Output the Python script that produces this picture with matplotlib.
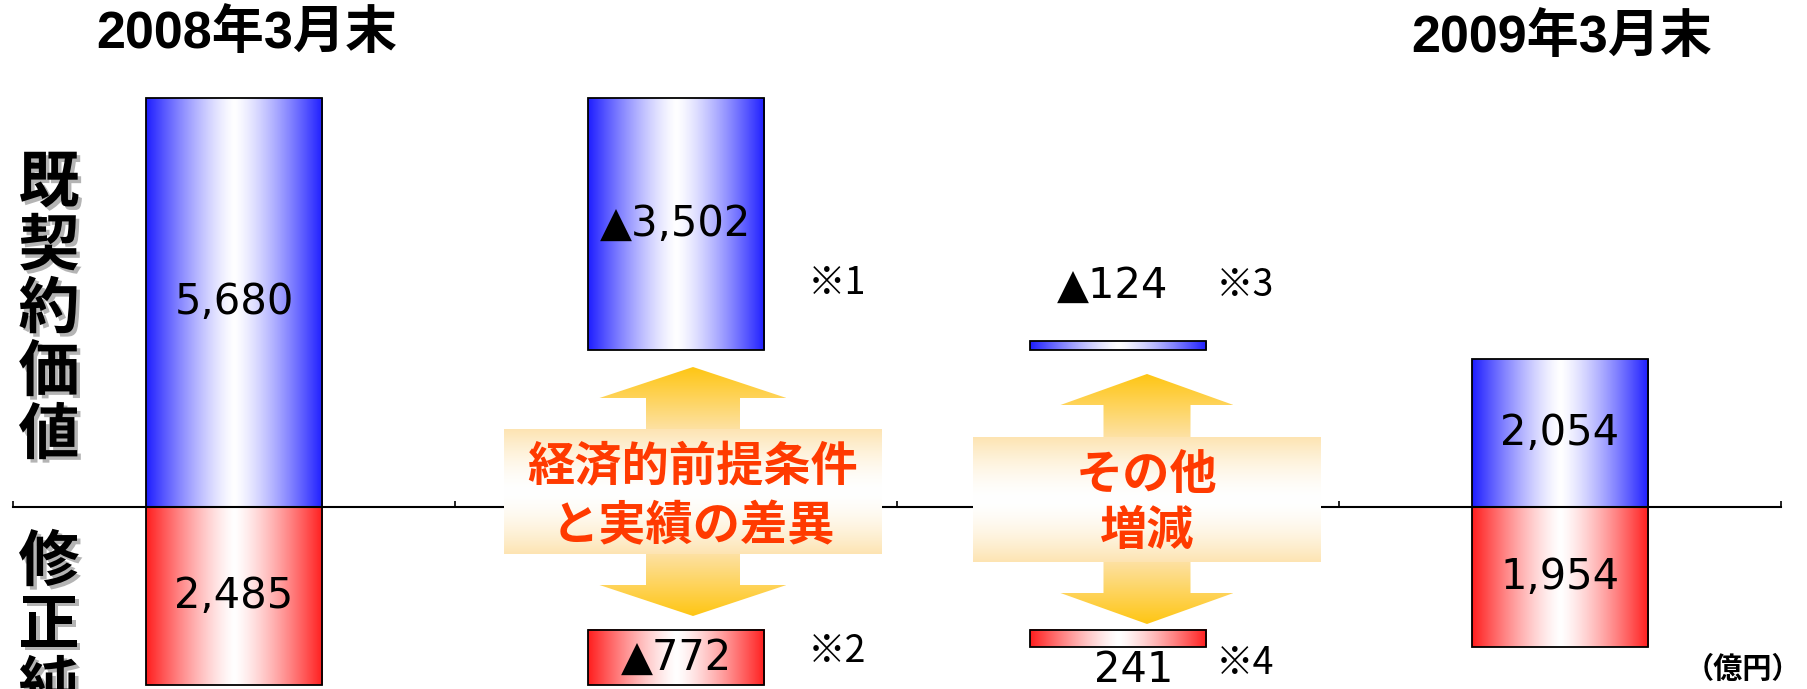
import numpy as np
import matplotlib
matplotlib.use("Agg")
import matplotlib.pyplot as plt
from matplotlib.patches import Polygon
import matplotlib.patheffects as pe

plt.rcParams["font.family"] = ["Noto Sans CJK JP", "DejaVu Sans"]

W, H = 1807, 689

# 億円. upper side = 既契約価値, lower side = 修正純資産
evc = [5680, -3502, -124, 2054]
anw = [2485, -772, 241, 1954]
periods = ["2008年3月末", "2009年3月末"]
steps = [["経済的前提条件", "と実績の差異"], ["その他", "増減"]]
notes = ["※1", "※2", "※3", "※4"]
side_top = "既契約価値"
side_bottom = "修正純"
unit = "（億円）"

BLUE = np.array([30, 30, 255]) / 255
RED = np.array([255, 30, 30]) / 255
GOLD = np.array([255, 198, 20]) / 255
PALE = np.array([253, 228, 178]) / 255
TXT_RED = "#ff3a00"
NUM_FONT = ["DejaVu Sans", "Noto Sans CJK JP"]
HEAD_FONT = ["Liberation Sans", "Noto Sans CJK JP", "DejaVu Sans"]

# y-scale: 0 sits 506.7 px from the top, 0.07195 px per 億円
PX = 0.07195
Y_MAX = 506.7 / PX
Y_MIN = -(H - 506.7) / PX

fig = plt.figure(figsize=(W / 100, H / 100), dpi=100)
ax = fig.add_axes([13 / W, 0, 1768 / W, 1])

x = np.arange(4) + 0.5
mid = evc[0] + evc[1]
top_bottom = [0, mid, mid, 0]
top_height = [evc[0], -evc[1], -evc[2], evc[3]]
low_bottom = [0, -anw[0], -(anw[0] + anw[1]), 0]
low_height = [-anw[0], -anw[1], -anw[2], -anw[3]]

bars_top = ax.bar(x, top_height, bottom=top_bottom, width=0.4,
                  facecolor="none", edgecolor="black", lw=1.3, zorder=3)
bars_low = ax.bar(x, low_height, bottom=low_bottom, width=0.4,
                  facecolor="none", edgecolor="black", lw=1.3, zorder=3)


def hgrad(edge, n=256):
    u = np.linspace(0, 1, n)
    t = np.abs(u - 0.5) / 0.5
    w = 1 - t ** 1.3
    return (edge[None, :] * (1 - w[:, None]) + w[:, None])[None, :, :]


for bars, col in [(bars_top, BLUE), (bars_low, RED)]:
    for b in bars:
        x0, y0, w, h = b.get_x(), b.get_y(), b.get_width(), b.get_height()
        ax.imshow(hgrad(col), extent=[x0, x0 + w, min(y0, y0 + h), max(y0, y0 + h)],
                  aspect="auto", interpolation="bilinear", zorder=2)

ax.set_xlim(0, 4)
ax.set_ylim(Y_MIN, Y_MAX)
for s in ["top", "left", "right"]:
    ax.spines[s].set_visible(False)
ax.spines["bottom"].set_position(("data", 0))
ax.spines["bottom"].set_linewidth(1.5)
ax.set_xticks(range(5))
ax.set_xticklabels([])
ax.set_yticks([])
ax.tick_params(axis="x", direction="in", length=4.5, width=1.2)
ax.patch.set_alpha(0)


def fmt(v):
    return f"▲{-v:,}" if v < 0 else f"{v:,}"


num = dict(ha="center", va="center", fontsize=30, color="black", zorder=4, family=NUM_FONT)
# big bars: value in the middle
ax.text(x[0], evc[0] / 2, fmt(evc[0]), **num)
ax.text(x[0], -anw[0] / 2, fmt(anw[0]), **num)
ax.text(x[1], mid - evc[1] / 2, fmt(evc[1]), **num)
ax.text(x[1], -anw[0] - anw[1] / 2, fmt(anw[1]), **num)
ax.text(x[3], evc[3] / 2, fmt(evc[3]), **num)
ax.text(x[3], -anw[3] / 2, fmt(anw[3]), **num)
# thin bars: value outside
ax.annotate(fmt(evc[2]), xy=(x[2], mid - evc[2]), xytext=(-4, 40),
            textcoords="offset points", **num)
ax.annotate(fmt(anw[2]), xy=(x[2], -(anw[0] + anw[1] + anw[2])), xytext=(11, -16.5),
            textcoords="offset points", **num)

# overlay in pixel units for headings and arrows
ov = fig.add_axes([0, 0, 1, 1], zorder=5)
ov.set_axis_off()


def double_arrow(cx, y_top, y_bot, head_h, head_hw, shaft_hw):
    pts = [(cx, y_top), (cx + head_hw, y_top + head_h), (cx + shaft_hw, y_top + head_h),
           (cx + shaft_hw, y_bot - head_h), (cx + head_hw, y_bot - head_h), (cx, y_bot),
           (cx - head_hw, y_bot - head_h), (cx - shaft_hw, y_bot - head_h),
           (cx - shaft_hw, y_top + head_h), (cx - head_hw, y_top + head_h)]
    poly = Polygon(pts, closed=True, facecolor="none", edgecolor="none")
    ov.add_patch(poly)
    ys = np.linspace(y_top, y_bot, 300)
    cy, half = (y_top + y_bot) / 2, (y_bot - y_top) / 2
    t = np.clip((np.abs(ys - cy) / half - 0.45) / 0.55, 0, 1)
    img = (PALE[None, :] * (1 - t[:, None]) + GOLD[None, :] * t[:, None])[:, None, :]
    im = ov.imshow(img, extent=[cx - head_hw, cx + head_hw, y_bot, y_top],
                   aspect="auto", origin="upper", interpolation="bilinear", zorder=1)
    im.set_clip_path(poly)


def band(x0, x1, y0, y1):
    v = np.linspace(0, 1, 200)
    w = 1 - (np.abs(v - 0.5) / 0.5) ** 1.6
    img = (PALE[None, :] * (1 - w[:, None]) + w[:, None])[:, None, :]
    ov.imshow(img, extent=[x0, x1, y1, y0], aspect="auto", origin="upper",
              interpolation="bilinear", zorder=2)


double_arrow(693, 367, 616, 31, 93.5, 47)
band(504, 882, 429, 554)
double_arrow(1147, 374, 624, 31, 86.5, 43.5)
band(973, 1321, 437, 562)

box = dict(ha="center", va="center", fontsize=34, fontweight="bold", color=TXT_RED, zorder=3)
ov.text(693, 467, steps[0][0], **box)
ov.text(693, 526, steps[0][1], **box)
ov.text(1147, 475, steps[1][0], **box)
ov.text(1147, 531, steps[1][1], **box)

head = dict(ha="center", va="center", fontsize=37.5, fontweight="bold", color="black",
            family=HEAD_FONT)
ov.text(247, 34, periods[0], **head)
ov.text(1562, 38, periods[1], **head)

note = dict(ha="left", va="center", fontsize=27, color="black",
            family=["Noto Sans CJK JP", "DejaVu Sans"])
ov.text(808, 283, notes[0], **note)
ov.text(808, 652, notes[1], **note)
ov.text(1216, 286, notes[2], **note)
ov.text(1216, 663, notes[3], **note)

shadow = [pe.SimplePatchShadow(offset=(2.5, -2.5), shadow_rgbFace="#777777", alpha=0.55), pe.Normal()]
side = dict(ha="center", va="center", fontsize=44, fontweight="bold", color="black",
            path_effects=shadow)
for i, ch in enumerate(side_top):
    ov.text(49, 184 + 63 * i, ch, **side)
for i, ch in enumerate(side_bottom):
    ov.text(49, 563 + 63 * i, ch, **side)

ov.text(1743, 669, unit, ha="center", va="center", fontsize=21, fontweight="bold")

ov.set_xlim(0, W)
ov.set_ylim(H, 0)

fig.savefig("out.png", dpi=100, facecolor="white")
